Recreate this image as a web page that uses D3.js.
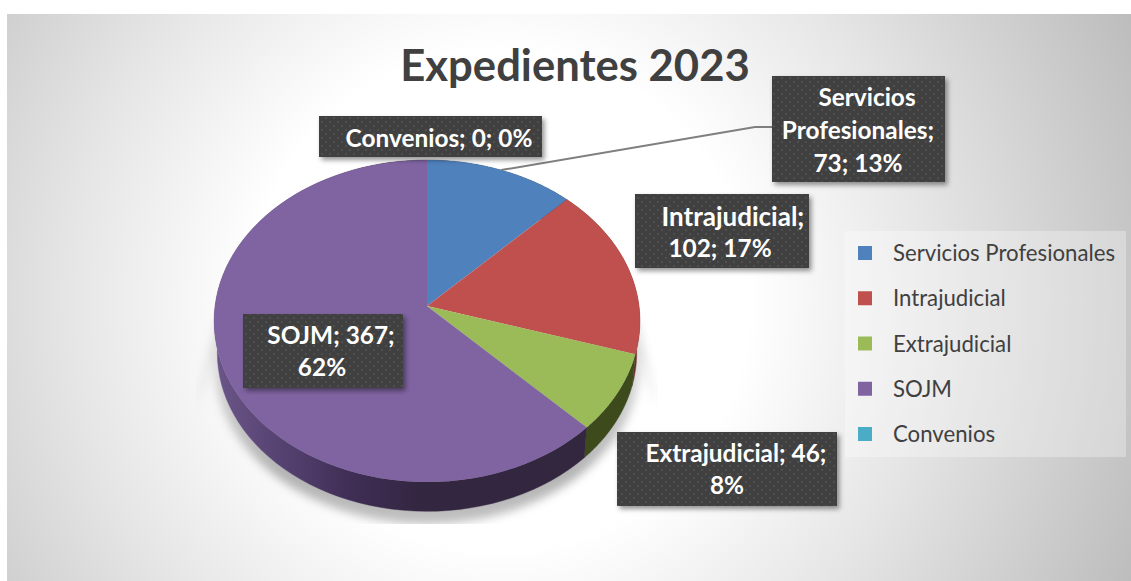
<!DOCTYPE html>
<html><head><meta charset="utf-8">
<style>html,body{margin:0;padding:0;background:#fff}svg{display:block}text{font-family:Lato,"Open Sans",sans-serif}</style>
<script src="https://cdn.jsdelivr.net/npm/d3@7"></script>
</head><body><svg id="c" width="1131" height="581"></svg>
<script>
const categories=["Servicios Profesionales","Intrajudicial","Extrajudicial","SOJM","Convenios"];
const values=[73,102,46,367,0];
const colors=["#4f81bd","#c0504d","#9bbb59","#8064a2","#4bacc6"];
const sideColors=["#2f4d71","#73302e","#3c4a1c","url(#wall)","#2d6776"];
const title="Expedientes 2023";
const labelLines=[["Servicios","Profesionales;","73; 13%"],["Intrajudicial;","102; 17%"],["Extrajudicial; 46;","8%"],["SOJM; 367;","62%"],["Convenios; 0; 0%"]];

const W=1131,H=581;
const svg=d3.select("#c");
const defs=svg.append("defs");
const bg=defs.append("radialGradient").attr("id","bg").attr("gradientUnits","userSpaceOnUse").attr("cx",500).attr("cy",300).attr("r",690);
[[0,"#ffffff"],[.36,"#ffffff"],[.62,"#e6e6e6"],[1,"#bdbdbd"]].forEach(s=>bg.append("stop").attr("offset",s[0]).attr("stop-color",s[1]));
const wall=defs.append("linearGradient").attr("id","wall").attr("gradientUnits","userSpaceOnUse").attr("x1",214).attr("x2",590).attr("y1",0).attr("y2",0);
[[0,"#6b5689"],[.17,"#574372"],[.36,"#402e56"],[.55,"#332640"],[1,"#33263f"]].forEach(s=>wall.append("stop").attr("offset",s[0]).attr("stop-color",s[1]));
const pat=defs.append("pattern").attr("id","dots").attr("patternUnits","userSpaceOnUse").attr("width",8).attr("height",8);
pat.append("rect").attr("width",8).attr("height",8).attr("fill","#3f3f3f");
[[2,2],[6,6]].forEach(p=>pat.append("circle").attr("cx",p[0]).attr("cy",p[1]).attr("r",1).attr("fill","#565656"));
const sh=defs.append("filter").attr("id","sh").attr("x","-20%").attr("y","-20%").attr("width","140%").attr("height","140%");
sh.append("feDropShadow").attr("dx",2.5).attr("dy",3).attr("stdDeviation",2.5).attr("flood-color","#000").attr("flood-opacity",.42);
const blur=defs.append("filter").attr("id","blur").attr("x","-20%").attr("y","-20%").attr("width","140%").attr("height","140%");
blur.append("feGaussianBlur").attr("stdDeviation",5);
defs.append("clipPath").attr("id","shClip").append("rect").attr("x",196).attr("y",300).attr("width",462).attr("height",224);
const fade=defs.append("linearGradient").attr("id","fade").attr("x1",0).attr("x2",0).attr("y1",0).attr("y2",1);
[[0,"#e4e4e4"],[.35,"#c8c8c8"],[.75,"#a8a8a8"],[1,"#b8b8b8"]].forEach(s=>fade.append("stop").attr("offset",s[0]).attr("stop-color",s[1]));

svg.append("rect").attr("x",7).attr("y",14).attr("width",W-7).attr("height",H-14).attr("fill","url(#bg)");

// perspective-tilted disc
const cx=427,cy=306,X=212,Yk=159.6,k=0.0932,depth=30,shrink=0.985;
const proj=a=>{const u=Math.sin(a),v=-Math.cos(a),d=1-k*v;return [cx+X*u/d,cy+Yk*v/d];};
const drop=p=>[cx+(p[0]-cx)*shrink,cy+(p[1]-cy)*shrink+depth+2];
const arcPts=(a0,a1)=>d3.range(0,81).map(i=>proj(a0+(a1-a0)*i/80));
const line=d3.line();
const arcs=d3.pie().sort(null).value(d=>d)(values);

// floor shadow
const shadowPts=arcPts(Math.PI/2,Math.PI*1.5).map(p=>[p[0],p[1]+depth+12]);
svg.append("g").attr("clip-path","url(#shClip)").append("path")
  .attr("d",line([[216,320],[638,320],[656,408],...shadowPts,[197,408]])+"Z")
  .attr("fill","url(#fade)").attr("opacity",.88).attr("filter","url(#blur)");

// side walls
const g=svg.append("g");
arcs.forEach((s,i)=>{
  if(s.endAngle-s.startAngle<=0)return;
  const top=arcPts(s.startAngle,s.endAngle);
  g.append("path").attr("d",line([...top,...top.slice().reverse().map(drop)])+"Z").attr("fill",sideColors[i]).attr("stroke",sideColors[i]).attr("stroke-width",.4);
});
// top faces
arcs.forEach((s,i)=>{
  if(s.endAngle-s.startAngle<=0)return;
  g.append("path").attr("d",line([[cx,cy],...arcPts(s.startAngle,s.endAngle)])+"Z").attr("fill",colors[i]);
});

// title
svg.append("text").attr("x",575).attr("y",81).attr("text-anchor","middle").attr("font-size",43.6).attr("font-weight",700).attr("fill","#404040").text(title);

// leader line
const a0=(arcs[0].startAngle+arcs[0].endAngle)/2,mid=proj(a0);
svg.append("path").attr("d",line([mid,[755,127],[772,127]])).attr("fill","none").attr("stroke","#7f7f7f").attr("stroke-width",2);

// data labels
const boxes=[{x:772,y:76,w:173,h:106,cx:[867,858,858],y0:106,dy:33},
 {x:635,y:194,w:174,h:74,cx:[733,720],y0:226,dy:31},
 {x:617,y:432,w:220,h:74,cx:[736,727],y0:462,dy:32},
 {x:243,y:314,w:160,h:74,cx:[331,322],y0:344,dy:32},
 {x:319,y:116,w:223,h:41,cx:[439],y0:147,dy:0}];
boxes.forEach((b,i)=>{
  const gg=svg.append("g");
  gg.append("rect").attr("x",b.x).attr("y",b.y).attr("width",b.w).attr("height",b.h).attr("fill","url(#dots)").attr("filter","url(#sh)");
  labelLines[i].forEach((t,j)=>gg.append("text").attr("x",b.cx[j]).attr("y",b.y0+j*b.dy).attr("text-anchor","middle").attr("font-size",i==1&&j==0?26:24.4).attr("font-weight",700).attr("fill","#fff").text(t));
});

// legend
svg.append("rect").attr("x",845).attr("y",231).attr("width",281).attr("height",226).attr("fill","#fff").attr("fill-opacity",.3);
const ly=d3.scalePoint().domain(categories).range([253,434]);
categories.forEach((c,i)=>{
  svg.append("rect").attr("x",858).attr("y",ly(c)-7).attr("width",14).attr("height",14).attr("fill",colors[i]);
  svg.append("text").attr("x",893).attr("y",ly(c)+8).attr("font-size",22.2).attr("fill","#404040").text(c);
});
</script></body></html>
